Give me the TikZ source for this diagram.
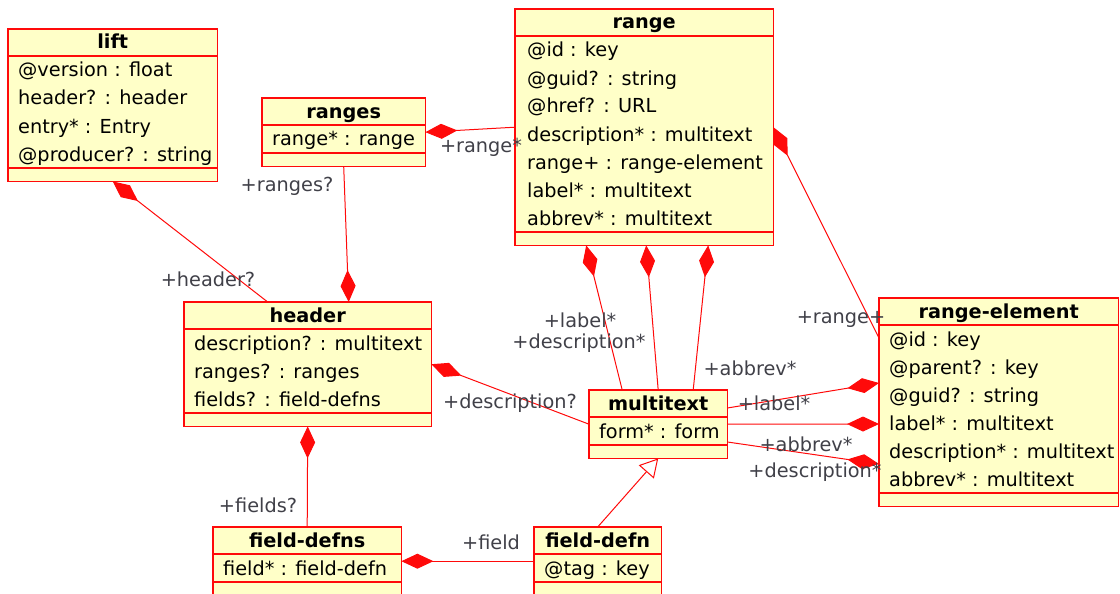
\documentclass[tikz,border=0pt]{standalone}
\usepackage{fontspec}
\setmainfont{DejaVu Sans}
\usetikzlibrary{arrows.meta}
\definecolor{clsfill}{RGB}{255,255,200}
\definecolor{clsred}{RGB}{255,10,10}
\definecolor{lblgray}{RGB}{64,64,72}

\begin{document}
\begin{tikzpicture}[x=1pt,y=-1pt,
    every node/.append style={font=\fontsize{19.3}{23}\selectfont},
    cls/.style={fill=clsfill,inner sep=0pt,anchor=north west},
    divl/.style={draw=clsred,line width=1.4pt},
    ttl/.style={font=\fontsize{19.3}{23}\selectfont\bfseries,anchor=base,inner sep=0pt},
    attr/.style={anchor=base west,inner sep=0pt},
    lbl/.style={text=lblgray,inner sep=0pt},
    comp/.style={draw=clsred,line width=1pt,-{Diamond[length=32pt,width=15pt]}},
    gen/.style={draw=clsred,line width=1pt,-{Triangle[open,length=18pt,width=20pt,fill=white]}}]
        \useasboundingbox (0,0) rectangle (1120,594);

        % class frames: name / x / y / width / rows
        \foreach \n/\x/\y/\w/\r in {lift/8/29/209/4, ranges/262/98/163/1, range/515/9/258/7,
            header/184/302/247/3, multitext/589/390/138/1, relem/879/298/239/6,
            fdefns/213/527/188/1, fdefn/534/527/127/1} {
            \node[cls,minimum width=\w pt,minimum height=40pt+28pt*\r] (\n) at (\x,\y) {};
            \draw[divl] (\n.north west) rectangle (\n.south east);
            \draw[divl] (\x,\y+27) -- ++(\w,0) (\x,{\y+27+28*\r}) -- ++(\w,0);
        }

        % titles
        \node[ttl] (lift-t) at ([yshift=-20pt]lift.north) {lift};
        \node[ttl] (ranges-t) at ([yshift=-20pt]ranges.north) {ranges};
        \node[ttl] (range-t) at ([yshift=-20pt]range.north) {range};
        \node[ttl] (header-t) at ([yshift=-20pt]header.north) {header};
        \node[ttl] (multitext-t) at ([yshift=-20pt]multitext.north) {multitext};
        \node[ttl] (relem-t) at ([yshift=-20pt]relem.north) {range-element};
        \node[ttl] (fdefns-t) at ([yshift=-20pt]fdefns.north) {field-defns};
        \node[ttl] (fdefn-t) at ([yshift=-20pt]fdefn.north) {field-defn};

        % attributes
        \foreach \a [count=\i] in {@version : float, header? : header, entry* : Entry, @producer? : string}
            \node[attr] (lift-\i) at ([xshift=10pt,yshift=-48pt-28pt*(\i-1)]lift.north west) {\a};
        \node[attr] (ranges-1) at ([xshift=10pt,yshift=-48pt]ranges.north west) {range* : range};
        \foreach \a [count=\i] in {@id : key, @guid? : string, @href? : URL, description* : multitext,
            range+ : range-element, label* : multitext, abbrev* : multitext}
            \node[attr] (range-\i) at ([xshift=12pt,yshift=-48pt-28pt*(\i-1)]range.north west) {\a};
        \foreach \a [count=\i] in {description? : multitext, ranges? : ranges, fields? : field-defns}
            \node[attr] (header-\i) at ([xshift=10pt,yshift=-48pt-28pt*(\i-1)]header.north west) {\a};
        \node[attr] (multitext-1) at ([xshift=10pt,yshift=-48pt]multitext.north west) {form* : form};
        \foreach \a [count=\i] in {@id : key, @parent? : key, @guid? : string, label* : multitext,
            description* : multitext, abbrev* : multitext}
            \node[attr] (relem-\i) at ([xshift=10pt,yshift=-48pt-28pt*(\i-1)]relem.north west) {\a};
        \node[attr] (fdefns-1) at ([xshift=10pt,yshift=-48pt]fdefns.north west) {field* : field-defn};
        \node[attr] (fdefn-1) at ([xshift=10pt,yshift=-48pt]fdefn.north west) {@tag : key};

        % associations
        \draw[comp] ([xshift=-40pt]header.north) -- (lift.south);
        \draw[comp] (ranges.south) -- ([xshift=41pt]header.north);
        \draw[comp] (range.west) -- (ranges.east);
        \draw[comp] ([xshift=-36pt]multitext.north) -- ([xshift=-58pt]range.south);
        \draw[comp] (multitext.north) -- ([xshift=2pt]range.south);
        \draw[comp] ([xshift=35pt]multitext.north) -- ([xshift=64pt]range.south);
        \draw[comp] (multitext.west) -- (header.east);
        \draw[comp] ([yshift=-40pt]relem.north west) -- (range.east);
        \draw[comp] ([yshift=-18pt]multitext.north east) -- ([yshift=-85pt]relem.north west);
        \draw[comp] (multitext.east) -- ([yshift=-126pt]relem.north west);
        \draw[comp] ([yshift=-52pt]multitext.north east) -- ([yshift=-166pt]relem.north west);
        \draw[comp] (fdefns.north) -- (header.south);
        \draw[comp] (fdefn.west) -- (fdefns.east);
        \draw[gen] (fdefn.north) -- (multitext.south);

        % role names
        \node[lbl] (r-header) at (208,279) {+header?};
        \node[lbl] (r-ranges) at (287,186) {+ranges?};
        \node[lbl] (r-range) at (481,147) {+range*};
        \node[lbl] (r-label) at (580,320) {+label*};
        \node[lbl] (r-desc) at (579,343) {+description*};
        \node[lbl] (r-abbrev) at (750,368) {+abbrev*};
        \node[lbl] (r-hdesc) at (510,403) {+description?};
        \node[lbl] (r-rangep) at (841,319) {+range+};
        \node[lbl] (r-elabel) at (774,403) {+label*};
        \node[lbl] (r-eabbrev) at (806,444) {+abbrev*};
        \node[lbl] (r-edesc) at (815,472) {+description*};
        \node[lbl] (r-fields) at (258,505) {+fields?};
        \node[lbl] (r-field) at (491,542) {+field};
\end{tikzpicture}
\end{document}
